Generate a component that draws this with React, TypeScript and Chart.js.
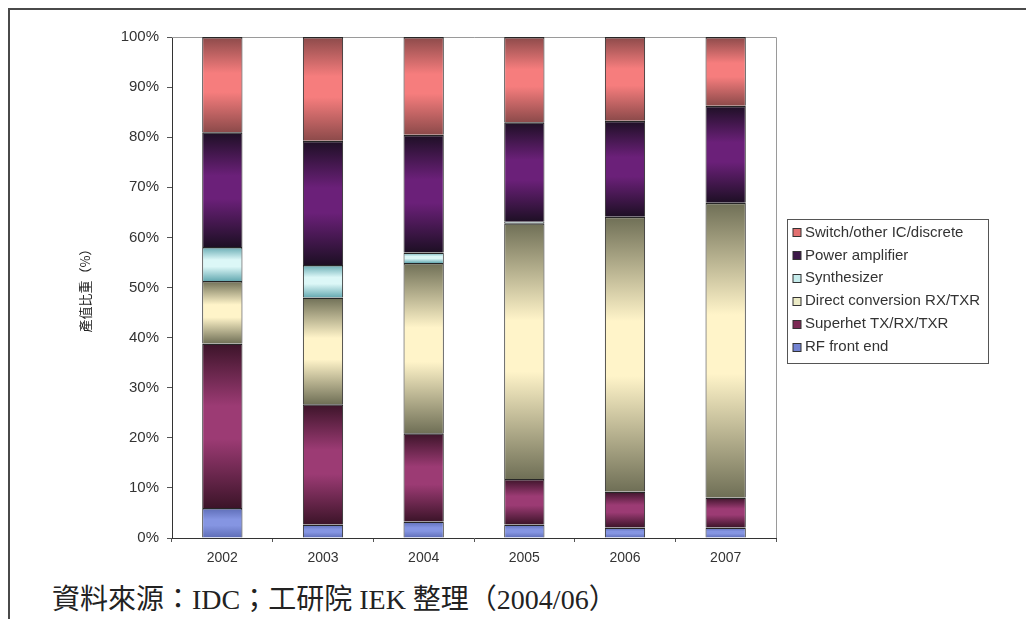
import React, { useEffect, useRef } from 'react';
import { Chart, registerables } from 'chart.js';

Chart.register(...registerables);

const years = ['2002', '2003', '2004', '2005', '2006', '2007'];
const yTickValues = [0, 10, 20, 30, 40, 50, 60, 70, 80, 90, 100];

const rfFrontEnd = [6.0, 2.7, 3.3, 2.7, 2.1, 2.1];
const superhet = [32.8, 24.0, 17.6, 9.1, 7.2, 6.0];
const directConversion = [12.5, 21.3, 34.0, 51.0, 54.8, 58.8];
const synthesizer = [6.8, 6.5, 2.1, 0.3, 0, 0];
const powerAmplifier = [22.9, 24.8, 23.5, 19.9, 19.2, 19.4];
const switchOther = [19.0, 20.7, 19.5, 17.0, 16.7, 13.7];

const seriesNames = [
  'RF front end',
  'Superhet TX/RX/TXR',
  'Direct conversion RX/TXR',
  'Synthesizer',
  'Power amplifier',
  'Switch/other IC/discrete',
];
const seriesValues = [rfFrontEnd, superhet, directConversion, synthesizer, powerAmplifier, switchOther];
const darkColors = ['#5d6cb6', '#3c1429', '#6f6f56', '#66aab2', '#1d0f24', '#8c4a4a'];
const lightColors = ['#8595e2', '#9c3b74', '#fff4c9', '#dcf7f7', '#6b2079', '#f67d7d'];
const swatchColors = ['#7383d2', '#7c2a55', '#ecebc6', '#c6ecec', '#3c1848', '#e27070'];

const FONT = '"Liberation Sans", Arial, sans-serif';

function makeBackground(di: number) {
  return (ctx: any) => {
    const chart = ctx.chart;
    const ys = chart.scales ? chart.scales.y : null;
    if (ctx.type !== 'data' || !ys || !chart.chartArea) return swatchColors[di];
    const i = ctx.dataIndex;
    let start = 0;
    for (let k = 0; k < di; k++) start += seriesValues[k][i];
    const end = start + seriesValues[di][i];
    const top = ys.getPixelForValue(end);
    const bot = ys.getPixelForValue(start);
    if (!isFinite(top) || !isFinite(bot) || Math.abs(bot - top) < 1) return darkColors[di];
    const g = chart.ctx.createLinearGradient(0, top, 0, bot);
    g.addColorStop(0, darkColors[di]);
    g.addColorStop(0.38, lightColors[di]);
    g.addColorStop(0.58, lightColors[di]);
    g.addColorStop(1, darkColors[di]);
    return g;
  };
}

const framePlugin = {
  id: 'plotFrame',
  beforeDatasetsDraw(chart: any) {
    const { ctx, chartArea } = chart;
    ctx.save();
    ctx.strokeStyle = '#9a9a9a';
    ctx.lineWidth = 1;
    ctx.beginPath();
    ctx.moveTo(chartArea.left, chartArea.top + 0.5);
    ctx.lineTo(chartArea.right + 0.5, chartArea.top + 0.5);
    ctx.lineTo(chartArea.right + 0.5, chartArea.bottom);
    ctx.stroke();
    ctx.restore();
  },
};

const legendPlugin = {
  id: 'boxLegend',
  afterDraw(chart: any) {
    const { ctx, chartArea } = chart;
    const boxLeft = chartArea.right + 11.5;
    const boxWidth = 201;
    const rowH = 22.9;
    const boxHeight = 144;
    const boxTop = Math.round((chartArea.top + chartArea.bottom) / 2 - boxHeight / 2 + 3) + 0.5;
    ctx.save();
    ctx.strokeStyle = '#555';
    ctx.lineWidth = 1;
    ctx.strokeRect(boxLeft, boxTop, boxWidth, boxHeight);
    ctx.font = '15px ' + FONT;
    ctx.textBaseline = 'middle';
    ctx.textAlign = 'left';
    for (let j = 0; j < seriesNames.length; j++) {
      const di = seriesNames.length - 1 - j;
      const cy = boxTop + 13 + j * rowH;
      ctx.fillStyle = swatchColors[di];
      ctx.fillRect(boxLeft + 5.5, Math.round(cy - 4.5), 8, 8);
      ctx.strokeStyle = '#333';
      ctx.strokeRect(boxLeft + 5.5, Math.round(cy - 4.5) + 0.5, 8, 8);
      ctx.fillStyle = '#333';
      ctx.fillText(seriesNames[di], boxLeft + 17.5, cy);
    }
    ctx.restore();
  },
};

export default function App() {
  const canvasRef = useRef<HTMLCanvasElement | null>(null);

  useEffect(() => {
    if (!canvasRef.current) return;
    const chart = new Chart(canvasRef.current, {
      type: 'bar',
      data: {
        labels: years,
        datasets: seriesNames.map((name, di) => ({
          label: name,
          data: seriesValues[di],
          backgroundColor: makeBackground(di),
          borderColor: '#262626',
          borderWidth: { top: 1.5, left: 1, right: 1, bottom: 0 },
          barPercentage: 0.4,
          categoryPercentage: 1,
        })),
      },
      options: {
        animation: false,
        responsive: false,
        maintainAspectRatio: false,
        layout: { padding: { left: 0, top: 37, right: 250, bottom: 0 } },
        plugins: {
          legend: { display: false },
          tooltip: { enabled: false },
          title: { display: false },
        },
        scales: {
          x: {
            stacked: true,
            afterFit: (s: any) => {
              s.height = 42;
            },
            grid: { display: true, drawOnChartArea: false, drawTicks: true, tickLength: 4, color: '#555' },
            border: { display: true, color: '#333', width: 1 },
            ticks: { color: '#333', font: { family: FONT, size: 14 }, padding: 8 },
          },
          y: {
            stacked: true,
            min: 0,
            max: 100,
            afterFit: (s: any) => {
              s.width = 172;
            },
            afterBuildTicks: (s: any) => {
              s.ticks = yTickValues.map((v) => ({ value: v }));
            },
            grid: { display: true, drawOnChartArea: false, drawTicks: true, tickLength: 5, color: '#555' },
            border: { display: true, color: '#333', width: 1 },
            ticks: {
              color: '#333',
              font: { family: FONT, size: 15 },
              padding: 8,
              callback: (v: any) => v + '%',
            },
            title: {
              display: true,
              text: '產值比重（%）',
              color: '#222',
              font: { family: '"Noto Sans CJK TC", sans-serif', size: 13 },
              padding: { top: 77, bottom: 0 },
            },
          },
        },
      },
      plugins: [framePlugin, legendPlugin],
    });
    return () => chart.destroy();
  }, []);

  return (
    <div
      style={{
        position: 'fixed',
        left: 0,
        top: 0,
        width: 1026,
        height: 619,
        background: '#fff',
        overflow: 'hidden',
      }}
    >
      <div
        style={{
          position: 'absolute',
          left: 8,
          top: 8,
          width: 1030,
          height: 620,
          borderTop: '2px solid #4a4a4a',
          borderLeft: '2px solid #4a4a4a',
        }}
      />
      <canvas
        ref={canvasRef}
        width={1026}
        height={580}
        style={{ position: 'absolute', left: 0, top: 0, width: 1026, height: 580 }}
      />
      <div
        style={{
          position: 'absolute',
          left: 52,
          top: 583,
          fontFamily: '"Liberation Serif", "Noto Sans CJK TC", serif',
          fontSize: 28,
          lineHeight: '34px',
          color: '#222',
          whiteSpace: 'nowrap',
        }}
      >
        資料來源：IDC；工研院 IEK 整理（2004/06）
      </div>
    </div>
  );
}
